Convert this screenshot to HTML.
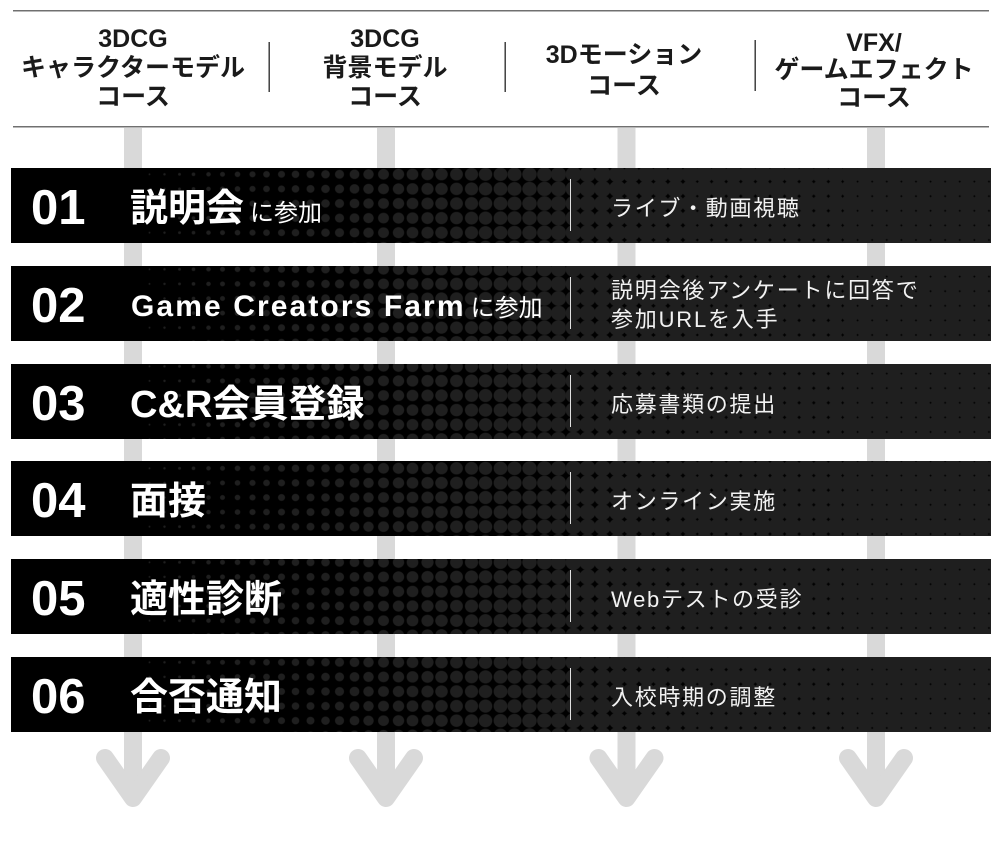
<!DOCTYPE html>
<html lang="ja">
<head>
<meta charset="utf-8">
<style>
html,body{margin:0;padding:0;background:#fff;}
body{width:1000px;height:850px;position:relative;overflow:hidden;font-family:"Liberation Sans","Noto Sans CJK JP",sans-serif;}
.h{position:absolute;width:240px;text-align:center;font-size:25px;font-weight:700;color:#1a1a1a;white-space:nowrap;}
.bar{position:absolute;left:11px;width:980px;height:75px;background:#000;overflow:hidden;}
.pat{position:absolute;left:0;width:980px;height:100px;background:
radial-gradient(circle,#1f1f1f .5px,transparent 1.3px) 131.4px 0/14.6px 14.6px repeat-y,
radial-gradient(circle,#1f1f1f .75px,transparent 1.55px) 146px 0/14.6px 14.6px repeat-y,
radial-gradient(circle,#1f1f1f 1px,transparent 1.8px) 160.6px 0/14.6px 14.6px repeat-y,
radial-gradient(circle,#1f1f1f 1.4px,transparent 2.2px) 175.2px 0/14.6px 14.6px repeat-y,
radial-gradient(circle,#1f1f1f 1.75px,transparent 2.55px) 189.8px 0/14.6px 14.6px repeat-y,
radial-gradient(circle,#1f1f1f 2px,transparent 2.8px) 204.4px 0/14.6px 14.6px repeat-y,
radial-gradient(circle,#1f1f1f 2.3px,transparent 3.1px) 219px 0/14.6px 14.6px repeat-y,
radial-gradient(circle,#1f1f1f 2.55px,transparent 3.35px) 233.6px 0/14.6px 14.6px repeat-y,
radial-gradient(circle,#1f1f1f 2.8px,transparent 3.6px) 248.2px 0/14.6px 14.6px repeat-y,
radial-gradient(circle,#1f1f1f 3px,transparent 3.8px) 262.8px 0/14.6px 14.6px repeat-y,
radial-gradient(circle,#1f1f1f 3.25px,transparent 4.05px) 277.4px 0/14.6px 14.6px repeat-y,
radial-gradient(circle,#1f1f1f 3.45px,transparent 4.25px) 292px 0/14.6px 14.6px repeat-y,
radial-gradient(circle,#1f1f1f 3.7px,transparent 4.5px) 306.6px 0/14.6px 14.6px repeat-y,
radial-gradient(circle,#1f1f1f 4px,transparent 4.8px) 321.2px 0/14.6px 14.6px repeat-y,
radial-gradient(circle,#1f1f1f 4.3px,transparent 5.1px) 335.8px 0/14.6px 14.6px repeat-y,
radial-gradient(circle,#1f1f1f 4.6px,transparent 5.4px) 350.4px 0/14.6px 14.6px repeat-y,
radial-gradient(circle,#1f1f1f 4.9px,transparent 5.7px) 365px 0/14.6px 14.6px repeat-y,
radial-gradient(circle,#1f1f1f 5.1px,transparent 5.9px) 379.6px 0/14.6px 14.6px repeat-y,
radial-gradient(circle,#1f1f1f 5.3px,transparent 6.1px) 394.2px 0/14.6px 14.6px repeat-y,
radial-gradient(circle,#1f1f1f 5.5px,transparent 6.3px) 408.8px 0/14.6px 14.6px repeat-y,
radial-gradient(circle,#1f1f1f 5.65px,transparent 6.45px) 423.4px 0/14.6px 14.6px repeat-y,
radial-gradient(circle,#1f1f1f 5.8px,transparent 6.6px) 438px 0/14.6px 14.6px repeat-y,
radial-gradient(circle,#1f1f1f 6px,transparent 6.8px) 452.6px 0/14.6px 14.6px repeat-y,
radial-gradient(circle,#1f1f1f 6.15px,transparent 6.95px) 467.2px 0/14.6px 14.6px repeat-y,
radial-gradient(circle,#1f1f1f 6.3px,transparent 7.1px) 481.8px 0/14.6px 14.6px repeat-y,
radial-gradient(circle,#1f1f1f 6.45px,transparent 7.25px) 496.4px 0/14.6px 14.6px repeat-y,
radial-gradient(circle,#1f1f1f 6.6px,transparent 7.4px) 511px 0/14.6px 14.6px repeat-y,
radial-gradient(circle,#1f1f1f 6.8px,transparent 7.6px) 525.6px 0/14.6px 14.6px repeat-y,
radial-gradient(circle,#1f1f1f 7px,transparent 7.8px) 540.2px 0/14.6px 14.6px repeat-y,
radial-gradient(circle,#1f1f1f 7.3px,transparent 8.1px) 554.8px 0/14.6px 14.6px repeat-y,
radial-gradient(circle,#1f1f1f 7.5px,transparent 8.3px) 569.4px 0/14.6px 14.6px repeat-y,
radial-gradient(circle,#1f1f1f 7.75px,transparent 8.55px) 584px 0/14.6px 14.6px repeat-y,
radial-gradient(circle,#1f1f1f 7.95px,transparent 8.75px) 598.6px 0/14.6px 14.6px repeat-y,
radial-gradient(circle,#1f1f1f 8.05px,transparent 8.85px) 613.2px 0/14.6px 14.6px repeat-y,
radial-gradient(circle,#1f1f1f 8.15px,transparent 8.95px) 627.8px 0/14.6px 14.6px repeat-y,
radial-gradient(circle,#1f1f1f 8.25px,transparent 9.05px) 642.4px 0/14.6px 14.6px repeat-y,
radial-gradient(circle,#1f1f1f 8.35px,transparent 9.15px) 657px 0/14.6px 14.6px repeat-y,
radial-gradient(circle,#1f1f1f 8.45px,transparent 9.25px) 671.6px 0/14.6px 14.6px repeat-y;}
.pr1{position:absolute;left:686.2px;top:0;width:146px;height:100px;background:radial-gradient(circle,#1f1f1f 8.7px,transparent 9.5px) 0 0/14.6px 14.6px;}
.pr2{position:absolute;left:832.2px;top:0;width:148px;height:100px;background:radial-gradient(circle,#1f1f1f 9.15px,transparent 9.95px) 0 0/14.6px 14.6px;}
.num{position:absolute;left:20px;top:15.5px;font-size:49px;line-height:49px;font-weight:700;color:#fff;white-space:nowrap;}
.ttl{position:absolute;left:119px;top:22.3px;font-size:38px;line-height:38px;font-weight:700;color:#fff;white-space:nowrap;}
.ttl2{position:absolute;left:120px;top:26.1px;font-size:30px;line-height:30px;font-weight:700;color:#fff;letter-spacing:2.1px;white-space:nowrap;}
.sm{font-size:24px;font-weight:400;margin-left:6px;letter-spacing:0;}
.vl{position:absolute;left:559px;top:11px;width:1px;height:52px;background:#e0e0e0;}
.ds{position:absolute;left:600px;top:29.8px;font-size:22px;line-height:22px;letter-spacing:1.7px;color:#f2f2f2;white-space:nowrap;}
</style>
</head>
<body>
<svg width="1000" height="850" style="position:absolute;left:0;top:0" xmlns="http://www.w3.org/2000/svg">
  <rect x="13" y="10" width="976" height="1.5" fill="#707070"/>
  <rect x="13" y="126" width="976" height="1.5" fill="#707070"/>
  <rect x="268.5" y="42" width="1.4" height="50" fill="#333"/>
  <rect x="504.5" y="42" width="1.4" height="50" fill="#333"/>
  <rect x="754.5" y="40" width="1.4" height="51" fill="#333"/>
  <g fill="#d9d9d9">
    <rect x="124" y="128" width="18" height="670"/>
    <rect x="377" y="128" width="18" height="670"/>
    <rect x="617.5" y="128" width="18" height="670"/>
    <rect x="867" y="128" width="18" height="670"/>
  </g>
  <g fill="none" stroke="#d9d9d9" stroke-width="18" stroke-linecap="round" stroke-linejoin="round">
    <polyline points="105,758 133,798 161,758"/>
    <polyline points="358,758 386,798 414,758"/>
    <polyline points="598.5,758 626.5,798 654.5,758"/>
    <polyline points="848,758 876,798 904,758"/>
  </g>
</svg>

<div class="h" style="left:13px;top:25.3px;line-height:29px">3DCG<br>キャラクターモデル<br>コース</div>
<div class="h" style="left:265px;top:25.3px;line-height:29px">3DCG<br>背景モデル<br>コース</div>
<div class="h" style="left:504px;top:39.9px;line-height:31px">3Dモーション<br>コース</div>
<div class="h" style="left:754px;top:31.3px;line-height:25px">VFX/</div>
<div class="h" style="left:754px;top:55.85px;line-height:28px">ゲームエフェクト<br>コース</div>

<div class="bar" style="top:168px">
  <div class="pat" style="top:-1.3px"><div class="pr1"></div><div class="pr2"></div></div>
  <div class="num">01</div>
  <div class="ttl">説明会<span class="sm">に参加</span></div>
  <div class="vl"></div>
  <div class="ds">ライブ・動画視聴</div>
</div>

<div class="bar" style="top:266px">
  <div class="pat" style="top:-4.3px"><div class="pr1"></div><div class="pr2"></div></div>
  <div class="num">02</div>
  <div class="ttl2">Game Creators Farm<span class="sm" style="margin-left:5px">に参加</span></div>
  <div class="vl"></div>
  <div class="ds" style="top:11.1px;line-height:28.6px;letter-spacing:1.8px">説明会後アンケートに回答で<br>参加URLを入手</div>
</div>

<div class="bar" style="top:364px">
  <div class="pat" style="top:-5.3px"><div class="pr1"></div><div class="pr2"></div></div>
  <div class="num">03</div>
  <div class="ttl">C&amp;R会員登録</div>
  <div class="vl"></div>
  <div class="ds">応募書類の提出</div>
</div>

<div class="bar" style="top:461px">
  <div class="pat" style="top:-0.3px"><div class="pr1"></div><div class="pr2"></div></div>
  <div class="num">04</div>
  <div class="ttl">面接</div>
  <div class="vl"></div>
  <div class="ds">オンライン実施</div>
</div>

<div class="bar" style="top:559px">
  <div class="pat" style="top:-4.3px"><div class="pr1"></div><div class="pr2"></div></div>
  <div class="num">05</div>
  <div class="ttl">適性診断</div>
  <div class="vl"></div>
  <div class="ds">Webテストの受診</div>
</div>

<div class="bar" style="top:657px">
  <div class="pat" style="top:-2.3px"><div class="pr1"></div><div class="pr2"></div></div>
  <div class="num">06</div>
  <div class="ttl">合否通知</div>
  <div class="vl"></div>
  <div class="ds">入校時期の調整</div>
</div>
</body>
</html>
